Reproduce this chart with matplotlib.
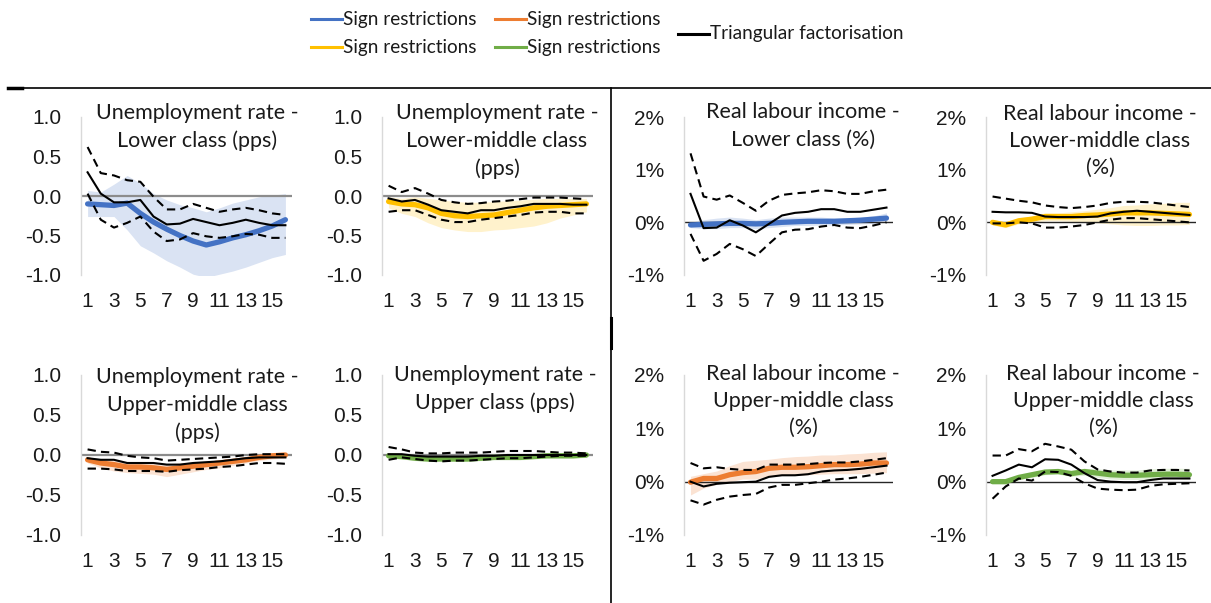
import matplotlib
matplotlib.use("Agg")
import matplotlib.pyplot as plt
from matplotlib.lines import Line2D

# ---------------- data ----------------
horizon = list(range(1, 17))
xtick_pos = [1, 3, 5, 7, 9, 11, 13, 15]
xtick_labels = ["1", "3", "5", "7", "9", "11", "13", "15"]

# Unemployment rate - Lower class (pps)
ul_med = [-0.10, -0.11, -0.12, -0.09, -0.22, -0.33, -0.42, -0.50, -0.57, -0.62, -0.58, -0.53, -0.49, -0.44, -0.38, -0.30]
ul_hi = [0.07, 0.05, 0.15, 0.26, 0.16, 0.03, -0.05, -0.11, -0.15, -0.20, -0.15, -0.09, -0.05, -0.01, 0.01, 0.03]
ul_lo = [-0.26, -0.26, -0.26, -0.43, -0.63, -0.72, -0.82, -0.90, -0.99, -1.03, -0.99, -0.95, -0.90, -0.84, -0.78, -0.74]
ul_tri = [0.30, 0.03, -0.08, -0.08, -0.05, -0.26, -0.36, -0.35, -0.29, -0.33, -0.37, -0.34, -0.30, -0.34, -0.37, -0.37]
ul_tri_hi = [0.62, 0.29, 0.26, 0.20, 0.18, -0.01, -0.17, -0.17, -0.10, -0.15, -0.20, -0.17, -0.15, -0.18, -0.22, -0.24]
ul_tri_lo = [0.03, -0.30, -0.40, -0.34, -0.26, -0.45, -0.57, -0.55, -0.47, -0.51, -0.53, -0.51, -0.48, -0.49, -0.53, -0.53]

# Unemployment rate - Lower-middle class (pps)
ulm_med = [-0.07, -0.10, -0.11, -0.15, -0.22, -0.25, -0.26, -0.25, -0.24, -0.21, -0.18, -0.15, -0.13, -0.12, -0.11, -0.10]
ulm_hi = [-0.01, -0.03, -0.01, -0.03, -0.05, -0.07, -0.08, -0.08, -0.07, -0.06, -0.05, -0.04, -0.03, -0.03, -0.03, -0.03]
ulm_lo = [-0.15, -0.22, -0.26, -0.34, -0.40, -0.43, -0.45, -0.45, -0.43, -0.42, -0.40, -0.38, -0.34, -0.28, -0.24, -0.20]
ulm_tri = [-0.03, -0.07, -0.05, -0.11, -0.18, -0.20, -0.22, -0.18, -0.18, -0.15, -0.13, -0.10, -0.10, -0.10, -0.11, -0.11]
ulm_tri_hi = [0.13, 0.05, 0.10, 0.03, -0.05, -0.08, -0.10, -0.09, -0.07, -0.06, -0.04, -0.02, -0.02, -0.02, -0.03, -0.04]
ulm_tri_lo = [-0.20, -0.18, -0.18, -0.24, -0.30, -0.33, -0.33, -0.30, -0.28, -0.26, -0.24, -0.21, -0.20, -0.20, -0.22, -0.22]

# Real labour income - Lower class (%)
il_med = [-0.05, -0.04, -0.03, -0.02, -0.02, -0.03, -0.02, 0.00, 0.01, 0.02, 0.02, 0.02, 0.03, 0.04, 0.06, 0.08]
il_hi = [0.00, 0.05, 0.08, 0.10, 0.08, 0.05, 0.08, 0.10, 0.10, 0.10, 0.10, 0.08, 0.08, 0.10, 0.12, 0.18]
il_lo = [-0.10, -0.12, -0.12, -0.10, -0.10, -0.12, -0.10, -0.08, -0.06, -0.06, -0.05, -0.05, -0.04, -0.03, -0.02, 0.00]
il_tri = [0.54, -0.11, -0.10, 0.04, -0.06, -0.19, -0.03, 0.13, 0.18, 0.20, 0.25, 0.25, 0.20, 0.20, 0.24, 0.28]
il_tri_hi = [1.31, 0.49, 0.43, 0.51, 0.37, 0.22, 0.41, 0.52, 0.55, 0.57, 0.61, 0.59, 0.54, 0.54, 0.59, 0.62]
il_tri_lo = [-0.22, -0.73, -0.60, -0.41, -0.51, -0.64, -0.41, -0.19, -0.14, -0.13, -0.08, -0.05, -0.10, -0.11, -0.06, 0.00]

# Real labour income - Lower-middle class (%)
ilm_med = [0.00, -0.05, 0.03, 0.06, 0.11, 0.11, 0.11, 0.13, 0.14, 0.16, 0.18, 0.18, 0.18, 0.17, 0.16, 0.15]
ilm_hi = [0.03, 0.00, 0.08, 0.12, 0.18, 0.18, 0.20, 0.22, 0.25, 0.28, 0.32, 0.33, 0.35, 0.36, 0.38, 0.38]
ilm_lo = [-0.05, -0.10, -0.03, 0.00, 0.03, 0.03, 0.02, 0.00, -0.01, -0.03, -0.05, -0.06, -0.06, -0.05, -0.05, -0.04]
ilm_tri = [0.20, 0.19, 0.19, 0.18, 0.11, 0.10, 0.10, 0.10, 0.11, 0.17, 0.20, 0.22, 0.20, 0.18, 0.16, 0.14]
ilm_tri_hi = [0.49, 0.45, 0.41, 0.38, 0.32, 0.29, 0.27, 0.29, 0.32, 0.37, 0.39, 0.39, 0.38, 0.35, 0.32, 0.29]
ilm_tri_lo = [-0.02, -0.02, 0.00, -0.02, -0.10, -0.10, -0.08, -0.05, 0.00, 0.05, 0.08, 0.08, 0.06, 0.04, 0.02, 0.00]

# Unemployment rate - Upper-middle class (pps)
uum_med = [-0.06, -0.10, -0.12, -0.15, -0.15, -0.16, -0.18, -0.16, -0.14, -0.12, -0.10, -0.08, -0.06, -0.03, -0.01, 0.00]
uum_hi = [-0.03, -0.05, -0.07, -0.08, -0.09, -0.10, -0.11, -0.10, -0.09, -0.08, -0.06, -0.05, -0.03, -0.01, 0.01, 0.02]
uum_lo = [-0.10, -0.16, -0.20, -0.22, -0.23, -0.24, -0.27, -0.24, -0.21, -0.18, -0.16, -0.13, -0.10, -0.07, -0.05, -0.04]
uum_tri = [-0.04, -0.06, -0.06, -0.10, -0.10, -0.10, -0.12, -0.12, -0.10, -0.09, -0.08, -0.06, -0.04, -0.03, -0.03, -0.03]
uum_tri_hi = [0.07, 0.04, 0.03, -0.01, -0.03, -0.04, -0.07, -0.06, -0.05, -0.04, -0.03, -0.02, 0.00, 0.01, 0.01, 0.01]
uum_tri_lo = [-0.17, -0.17, -0.18, -0.20, -0.20, -0.20, -0.21, -0.19, -0.18, -0.17, -0.15, -0.14, -0.12, -0.10, -0.10, -0.11]

# Unemployment rate - Upper class (pps)
uu_med = [-0.01, -0.02, -0.04, -0.05, -0.05, -0.05, -0.05, -0.04, -0.03, -0.03, -0.03, -0.02, -0.01, -0.01, -0.01, 0.00]
uu_hi = [0.02, 0.01, -0.01, -0.02, -0.02, -0.02, -0.02, -0.01, 0.00, 0.00, 0.00, 0.01, 0.02, 0.02, 0.02, 0.03]
uu_lo = [-0.04, -0.05, -0.07, -0.08, -0.08, -0.08, -0.08, -0.07, -0.06, -0.06, -0.06, -0.05, -0.04, -0.04, -0.04, -0.03]
uu_tri = [0.01, 0.01, -0.01, -0.02, -0.02, -0.02, -0.02, -0.01, -0.01, 0.00, 0.00, 0.00, 0.00, 0.00, 0.00, 0.00]
uu_tri_hi = [0.10, 0.07, 0.03, 0.02, 0.02, 0.03, 0.03, 0.03, 0.04, 0.05, 0.05, 0.05, 0.04, 0.03, 0.03, 0.02]
uu_tri_lo = [-0.06, -0.03, -0.05, -0.07, -0.08, -0.07, -0.07, -0.06, -0.05, -0.04, -0.04, -0.03, -0.02, -0.01, -0.01, -0.01]

# Real labour income - Upper-middle class (%), orange
ium_med = [-0.01, 0.06, 0.06, 0.13, 0.17, 0.19, 0.25, 0.27, 0.27, 0.28, 0.30, 0.32, 0.32, 0.33, 0.35, 0.35]
ium_hi = [0.10, 0.15, 0.20, 0.30, 0.38, 0.40, 0.42, 0.45, 0.47, 0.48, 0.50, 0.50, 0.52, 0.53, 0.55, 0.56]
ium_lo = [-0.25, -0.12, -0.05, 0.00, 0.05, 0.05, 0.10, 0.12, 0.12, 0.13, 0.14, 0.15, 0.15, 0.15, 0.16, 0.17]
ium_tri = [0.00, -0.09, -0.04, -0.02, -0.01, 0.00, 0.09, 0.12, 0.12, 0.14, 0.19, 0.21, 0.22, 0.24, 0.27, 0.30]
ium_tri_hi = [0.35, 0.25, 0.27, 0.24, 0.22, 0.22, 0.32, 0.32, 0.32, 0.33, 0.35, 0.36, 0.36, 0.38, 0.41, 0.44]
ium_tri_lo = [-0.35, -0.43, -0.34, -0.28, -0.25, -0.23, -0.11, -0.06, -0.06, -0.03, 0.00, 0.04, 0.06, 0.09, 0.13, 0.17]

# Real labour income - Upper-middle class (%), green
iu_med = [0.00, 0.00, 0.08, 0.13, 0.18, 0.19, 0.15, 0.19, 0.16, 0.13, 0.12, 0.12, 0.13, 0.14, 0.14, 0.13]
iu_hi = [0.03, 0.05, 0.12, 0.18, 0.22, 0.23, 0.22, 0.25, 0.24, 0.22, 0.22, 0.22, 0.24, 0.25, 0.25, 0.25]
iu_lo = [-0.03, -0.03, 0.04, 0.08, 0.13, 0.14, 0.10, 0.12, 0.08, 0.05, 0.04, 0.04, 0.05, 0.06, 0.06, 0.05]
iu_tri = [0.11, 0.21, 0.32, 0.27, 0.42, 0.41, 0.32, 0.16, 0.03, 0.00, -0.01, -0.01, 0.03, 0.06, 0.06, 0.06]
iu_tri_hi = [0.49, 0.49, 0.61, 0.57, 0.71, 0.66, 0.60, 0.38, 0.23, 0.19, 0.17, 0.17, 0.21, 0.22, 0.22, 0.21]
iu_tri_lo = [-0.32, -0.09, 0.06, 0.02, 0.19, 0.18, 0.11, -0.03, -0.13, -0.15, -0.16, -0.15, -0.08, -0.05, -0.04, -0.03]

titles = [
    "Unemployment rate -\nLower class (pps)",
    "Unemployment rate -\nLower-middle class\n(pps)",
    "Real labour income -\nLower class (%)",
    "Real labour income -\nLower-middle class\n(%)",
    "Unemployment rate -\nUpper-middle class\n(pps)",
    "Unemployment rate -\nUpper class (pps)",
    "Real labour income -\nUpper-middle class\n(%)",
    "Real labour income -\nUpper-middle class\n(%)",
]

legend_labels = ["Sign restrictions", "Sign restrictions", "Sign restrictions",
                 "Sign restrictions", "Triangular factorisation"]

# ---------------- style ----------------
plt.rcParams["font.family"] = ["Liberation Sans", "DejaVu Sans"]
BLUE, ORANGE, YELLOW, GREEN = "#4472C4", "#ED7D31", "#FFC000", "#70AD47"
BAND = {BLUE: "#DAE3F3", ORANGE: "#FBE3D3", YELLOW: "#FFF2CC", GREEN: "#E2F0D9"}
TITLE_FONT = ["Lato", "DejaVu Sans"]

W, H = 1211, 603
fig = plt.figure(figsize=(W / 100, H / 100), dpi=100)


def add_axes_px(left, top, right, bottom):
    return fig.add_axes([left / W, 1 - bottom / H, (right - left) / W, (bottom - top) / H])


panels = [
    # (columns px, rows px, series, colour, kind, title centre px)
    ((81, 292), (117, 275), (ul_med, ul_hi, ul_lo, ul_tri, ul_tri_hi, ul_tri_lo), BLUE, "u", (197, 127)),
    ((382, 593), (117, 275), (ulm_med, ulm_hi, ulm_lo, ulm_tri, ulm_tri_hi, ulm_tri_lo), YELLOW, "u", (497, 141)),
    ((684, 893), (117, 275), (il_med, il_hi, il_lo, il_tri, il_tri_hi, il_tri_lo), BLUE, "i", (803, 126)),
    ((986, 1196), (117, 275), (ilm_med, ilm_hi, ilm_lo, ilm_tri, ilm_tri_hi, ilm_tri_lo), YELLOW, "i", (1100, 141)),
    ((81, 292), (375, 535), (uum_med, uum_hi, uum_lo, uum_tri, uum_tri_hi, uum_tri_lo), ORANGE, "u", (197, 405)),
    ((382, 593), (375, 535), (uu_med, uu_hi, uu_lo, uu_tri, uu_tri_hi, uu_tri_lo), GREEN, "u", (495, 389)),
    ((684, 893), (375, 535), (ium_med, ium_hi, ium_lo, ium_tri, ium_tri_hi, ium_tri_lo), ORANGE, "i", (803, 401)),
    ((986, 1196), (375, 535), (iu_med, iu_hi, iu_lo, iu_tri, iu_tri_hi, iu_tri_lo), GREEN, "i", (1103, 401)),
]

for (cols, rows, series, colour, kind, tpos), title in zip(panels, titles):
    ax = add_axes_px(cols[0], rows[0], cols[1], rows[1])
    med, hi, lo, tri, tri_hi, tri_lo = series
    ax.fill_between(horizon, lo, hi, color=BAND[colour], lw=0, zorder=1)
    if kind == "u":
        ax.axhline(0, color="#8C8C8C", lw=1.6, zorder=1.5)
    else:
        ax.axhline(0, color="#262626", lw=1.0, zorder=1.5)
    ax.plot(horizon, med, color=colour, lw=3.8, solid_capstyle="round", zorder=2)
    ax.plot(horizon, tri, color="black", lw=1.5, zorder=3)
    ax.plot(horizon, tri_hi, color="black", lw=1.5, ls=(0, (4, 2.5)), zorder=3)
    ax.plot(horizon, tri_lo, color="black", lw=1.5, ls=(0, (4, 2.5)), zorder=3)

    ax.set_xlim(0.5, 16.5)
    if kind == "u":
        ax.set_ylim(-1.0, 1.0)
        ax.set_yticks([-1.0, -0.5, 0.0, 0.5, 1.0])
        ax.set_yticklabels(["-1.0", "-0.5", "0.0", "0.5", "1.0"])
    else:
        ax.set_ylim(-1.0, 2.0)
        ax.set_yticks([-1, 0, 1, 2])
        ax.set_yticklabels(["-1%", "0%", "1%", "2%"])
    ax.set_xticks(xtick_pos)
    ax.set_xticklabels(xtick_labels)
    ax.tick_params(axis="both", length=0, labelsize=15, colors="#1a1a1a")
    ax.tick_params(axis="y", pad=14)
    ax.tick_params(axis="x", pad=12)
    for side in ("top", "right", "bottom"):
        ax.spines[side].set_visible(False)
    ax.spines["left"].set_color("#D9D9D9")
    ax.spines["left"].set_linewidth(1.0)
    ax.patch.set_alpha(0)

    fig.text(tpos[0] / W, 1 - tpos[1] / H, title, ha="center", va="center",
             multialignment="center", fontsize=15.5, family=TITLE_FONT,
             color="#1a1a1a", linespacing=1.45, zorder=5)

# ---------------- legend ----------------
legend_items = [
    (BLUE, 311, 19, legend_labels[0]),
    (ORANGE, 495, 19, legend_labels[1]),
    (YELLOW, 311, 47, legend_labels[2]),
    (GREEN, 495, 47, legend_labels[3]),
    ("black", 678, 34, legend_labels[4]),
]
for colour, x0, y0, label in legend_items:
    fig.add_artist(Line2D([x0 / W, (x0 + 31) / W], [1 - y0 / H] * 2,
                          transform=fig.transFigure, color=colour, lw=2.2))
    fig.text((x0 + 32) / W, 1 - y0 / H, label, ha="left", va="center",
             fontsize=13.7, family=TITLE_FONT, color="#1a1a1a")

# ---------------- frame lines ----------------
fig.add_artist(Line2D([8 / W, 1.0], [1 - 88 / H] * 2, transform=fig.transFigure,
                      color="black", lw=1.2))
fig.add_artist(Line2D([8 / W, 22 / W], [1 - 88 / H] * 2, transform=fig.transFigure,
                      color="black", lw=2.5))
fig.add_artist(Line2D([611 / W] * 2, [1 - 88 / H, 0.0], transform=fig.transFigure,
                      color="black", lw=1.2))
fig.add_artist(Line2D([611 / W] * 2, [1 - 318 / H, 1 - 348 / H], transform=fig.transFigure,
                      color="black", lw=2.2))

fig.savefig("out.png", dpi=100)
